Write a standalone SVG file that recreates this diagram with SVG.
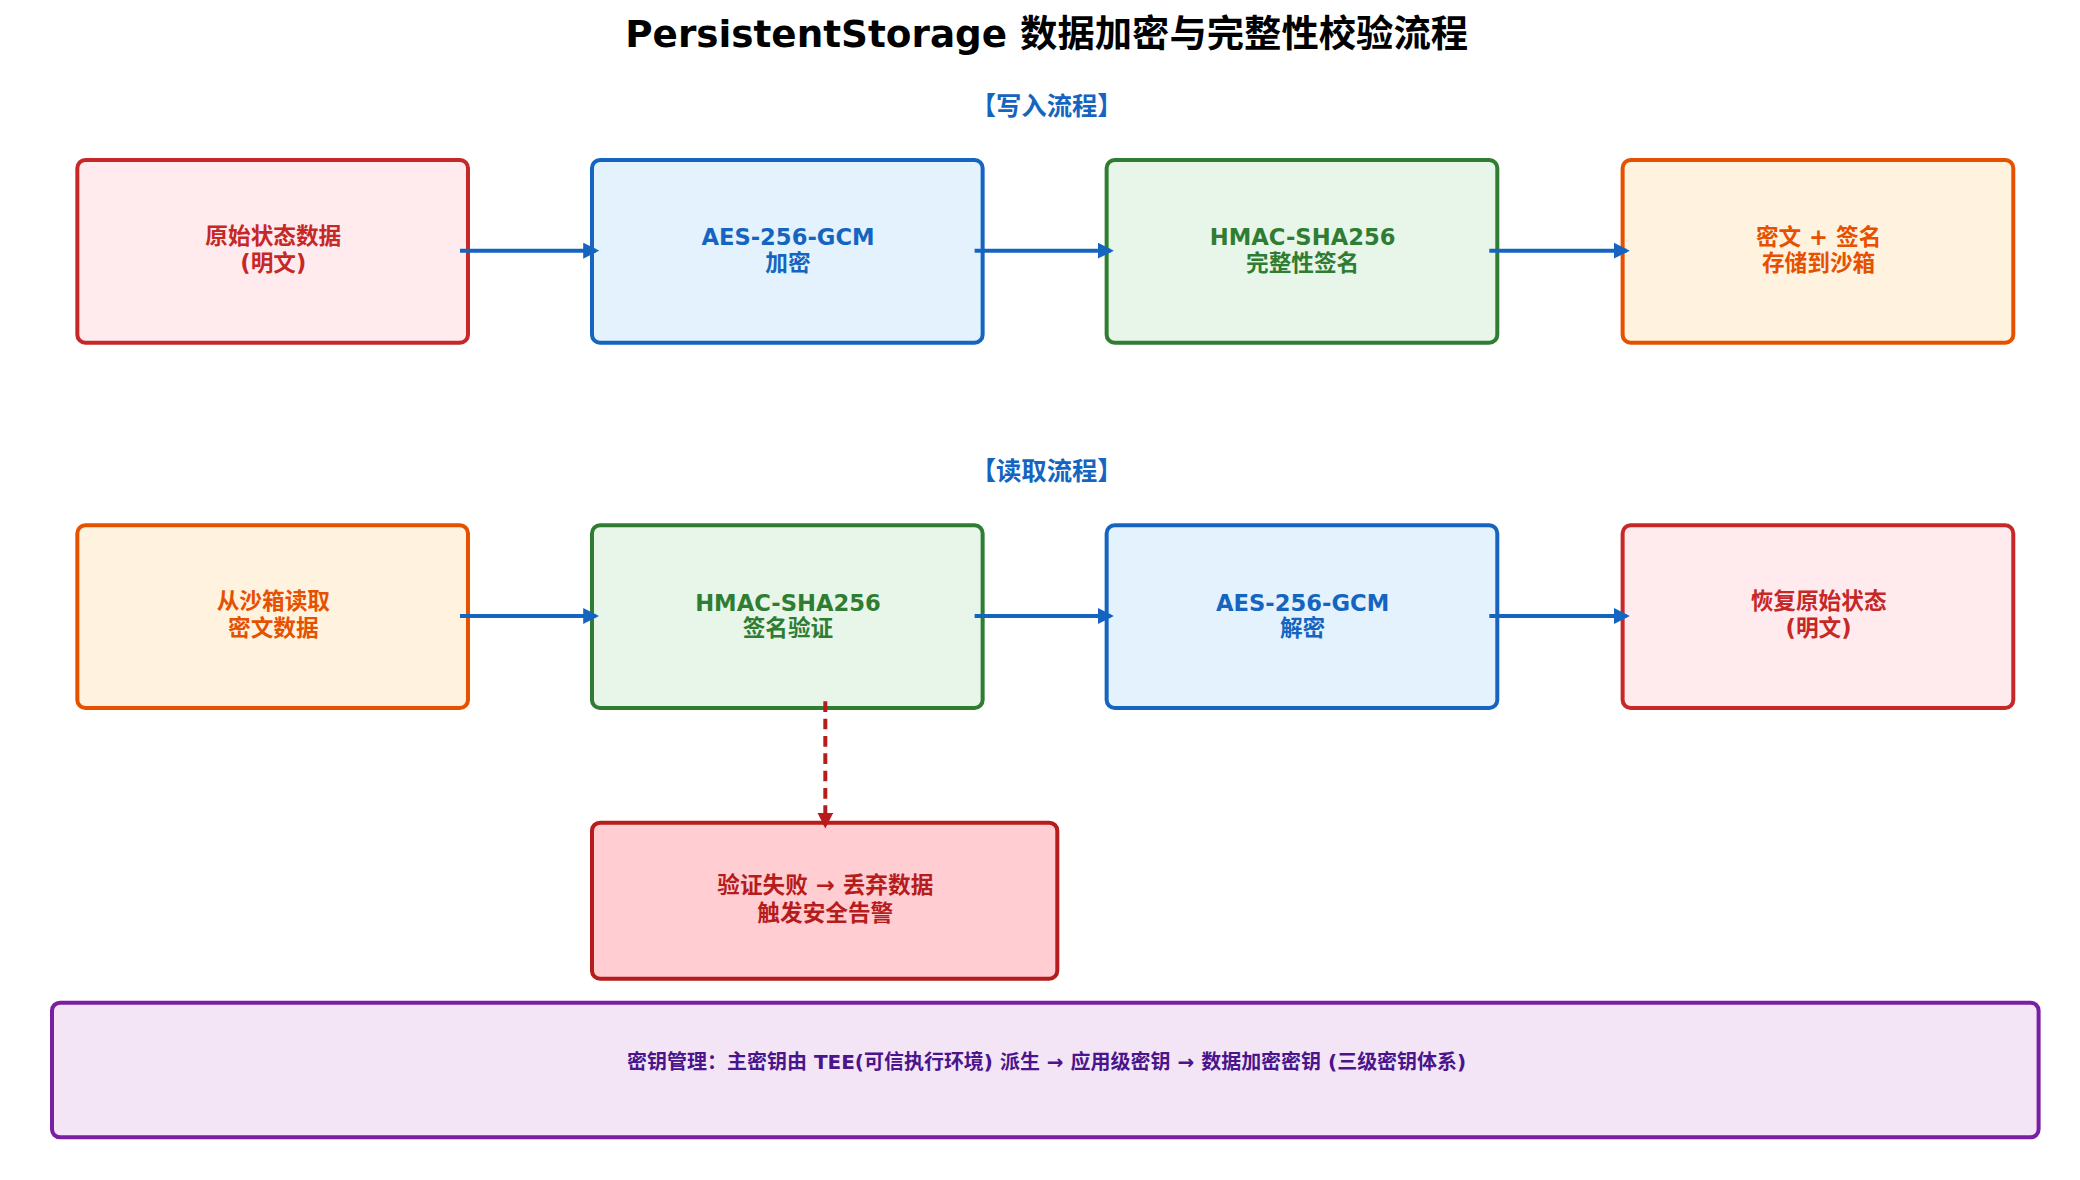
<svg xmlns="http://www.w3.org/2000/svg" width="2080" height="1180" viewBox="0 0 2080 1180">
<style>
text{font-family:"DejaVu Sans","Noto Sans CJK SC",sans-serif;font-weight:bold;text-anchor:middle}
.n{font-size:17px}
.sec{font-size:19px;fill:#1565c0}
.box{stroke-width:3}
.red{fill:#ffebee;stroke:#c62828}.redt{fill:#c62828}
.blue{fill:#e3f2fd;stroke:#1565c0}.bluet{fill:#1565c0}
.green{fill:#e8f5e9;stroke:#2e7d32}.greent{fill:#2e7d32}
.orange{fill:#fff3e0;stroke:#e65100}.oranget{fill:#e65100}
.a{stroke:#1565c0;stroke-width:3;fill:none;marker-end:url(#ah)}
</style>
<defs>
<marker id="ah" viewBox="0 0 10 10" refX="8" refY="5" markerWidth="4" markerHeight="4" orient="auto"><path d="M0,0L10,5L0,10z" fill="#1565c0"/></marker>
<marker id="ahr" viewBox="0 0 10 10" refX="8" refY="5" markerWidth="4" markerHeight="4" orient="auto"><path d="M0,0L10,5L0,10z" fill="#b71c1c"/></marker>
</defs>
<rect width="2080" height="1180" fill="#fff"/>
<g transform="scale(1.3333)">
<text x="785" y="35" style="font-size:28px">PersistentStorage 数据加密与完整性校验流程</text>
<text class="sec" x="785" y="86">【写入流程】</text>
<text class="sec" x="785" y="360">【读取流程】</text>
<g id="w1"><rect class="box red" x="58" y="120" width="293" height="137" rx="6"/><text class="n redt" x="205" y="183">原始状态数据</text><text class="n redt" x="205" y="203">(明文)</text></g>
<g id="w2"><rect class="box blue" x="444" y="120" width="293" height="137" rx="6"/><text class="n bluet" x="591" y="184">AES-256-GCM</text><text class="n bluet" x="591" y="203">加密</text></g>
<g id="w3"><rect class="box green" x="830" y="120" width="293" height="137" rx="6"/><text class="n greent" x="977" y="184">HMAC-SHA256</text><text class="n greent" x="977" y="203">完整性签名</text></g>
<g id="w4"><rect class="box orange" x="1217" y="120" width="293" height="137" rx="6"/><text class="n oranget" x="1364" y="184">密文 + 签名</text><text class="n oranget" x="1364" y="203">存储到沙箱</text></g>
<g id="r1"><rect class="box orange" x="58" y="394" width="293" height="137" rx="6"/><text class="n oranget" x="205" y="457">从沙箱读取</text><text class="n oranget" x="205" y="477">密文数据</text></g>
<g id="r2"><rect class="box green" x="444" y="394" width="293" height="137" rx="6"/><text class="n greent" x="591" y="458">HMAC-SHA256</text><text class="n greent" x="591" y="477">签名验证</text></g>
<g id="r3"><rect class="box blue" x="830" y="394" width="293" height="137" rx="6"/><text class="n bluet" x="977" y="458">AES-256-GCM</text><text class="n bluet" x="977" y="477">解密</text></g>
<g id="r4"><rect class="box red" x="1217" y="394" width="293" height="137" rx="6"/><text class="n redt" x="1364" y="457">恢复原始状态</text><text class="n redt" x="1364" y="477">(明文)</text></g>
<g id="fail"><rect class="box" fill="#ffcdd2" stroke="#b71c1c" x="444" y="617" width="349" height="117" rx="6"/><text class="n" fill="#b71c1c" x="619" y="670">验证失败 → 丢弃数据</text><text class="n" fill="#b71c1c" x="619" y="691">触发安全告警</text></g>
<g id="key"><rect class="box" fill="#f3e5f5" stroke="#7b1fa2" x="39" y="752" width="1490" height="101" rx="6"/><text x="785" y="802" style="font-size:15px" fill="#4a148c">密钥管理：主密钥由 TEE(可信执行环境) 派生 → 应用级密钥 → 数据加密密钥 (三级密钥体系)</text></g>
<g id="connectors">
<path class="a" d="M345 188H447"/><path class="a" d="M731 188H833"/><path class="a" d="M1117 188H1220"/>
<path class="a" d="M345 462H447"/><path class="a" d="M731 462H833"/><path class="a" d="M1117 462H1220"/>
<path d="M619 526V619" stroke="#b71c1c" stroke-width="3" stroke-dasharray="8,5" fill="none" marker-end="url(#ahr)"/>
</g>
</g>
</svg>
